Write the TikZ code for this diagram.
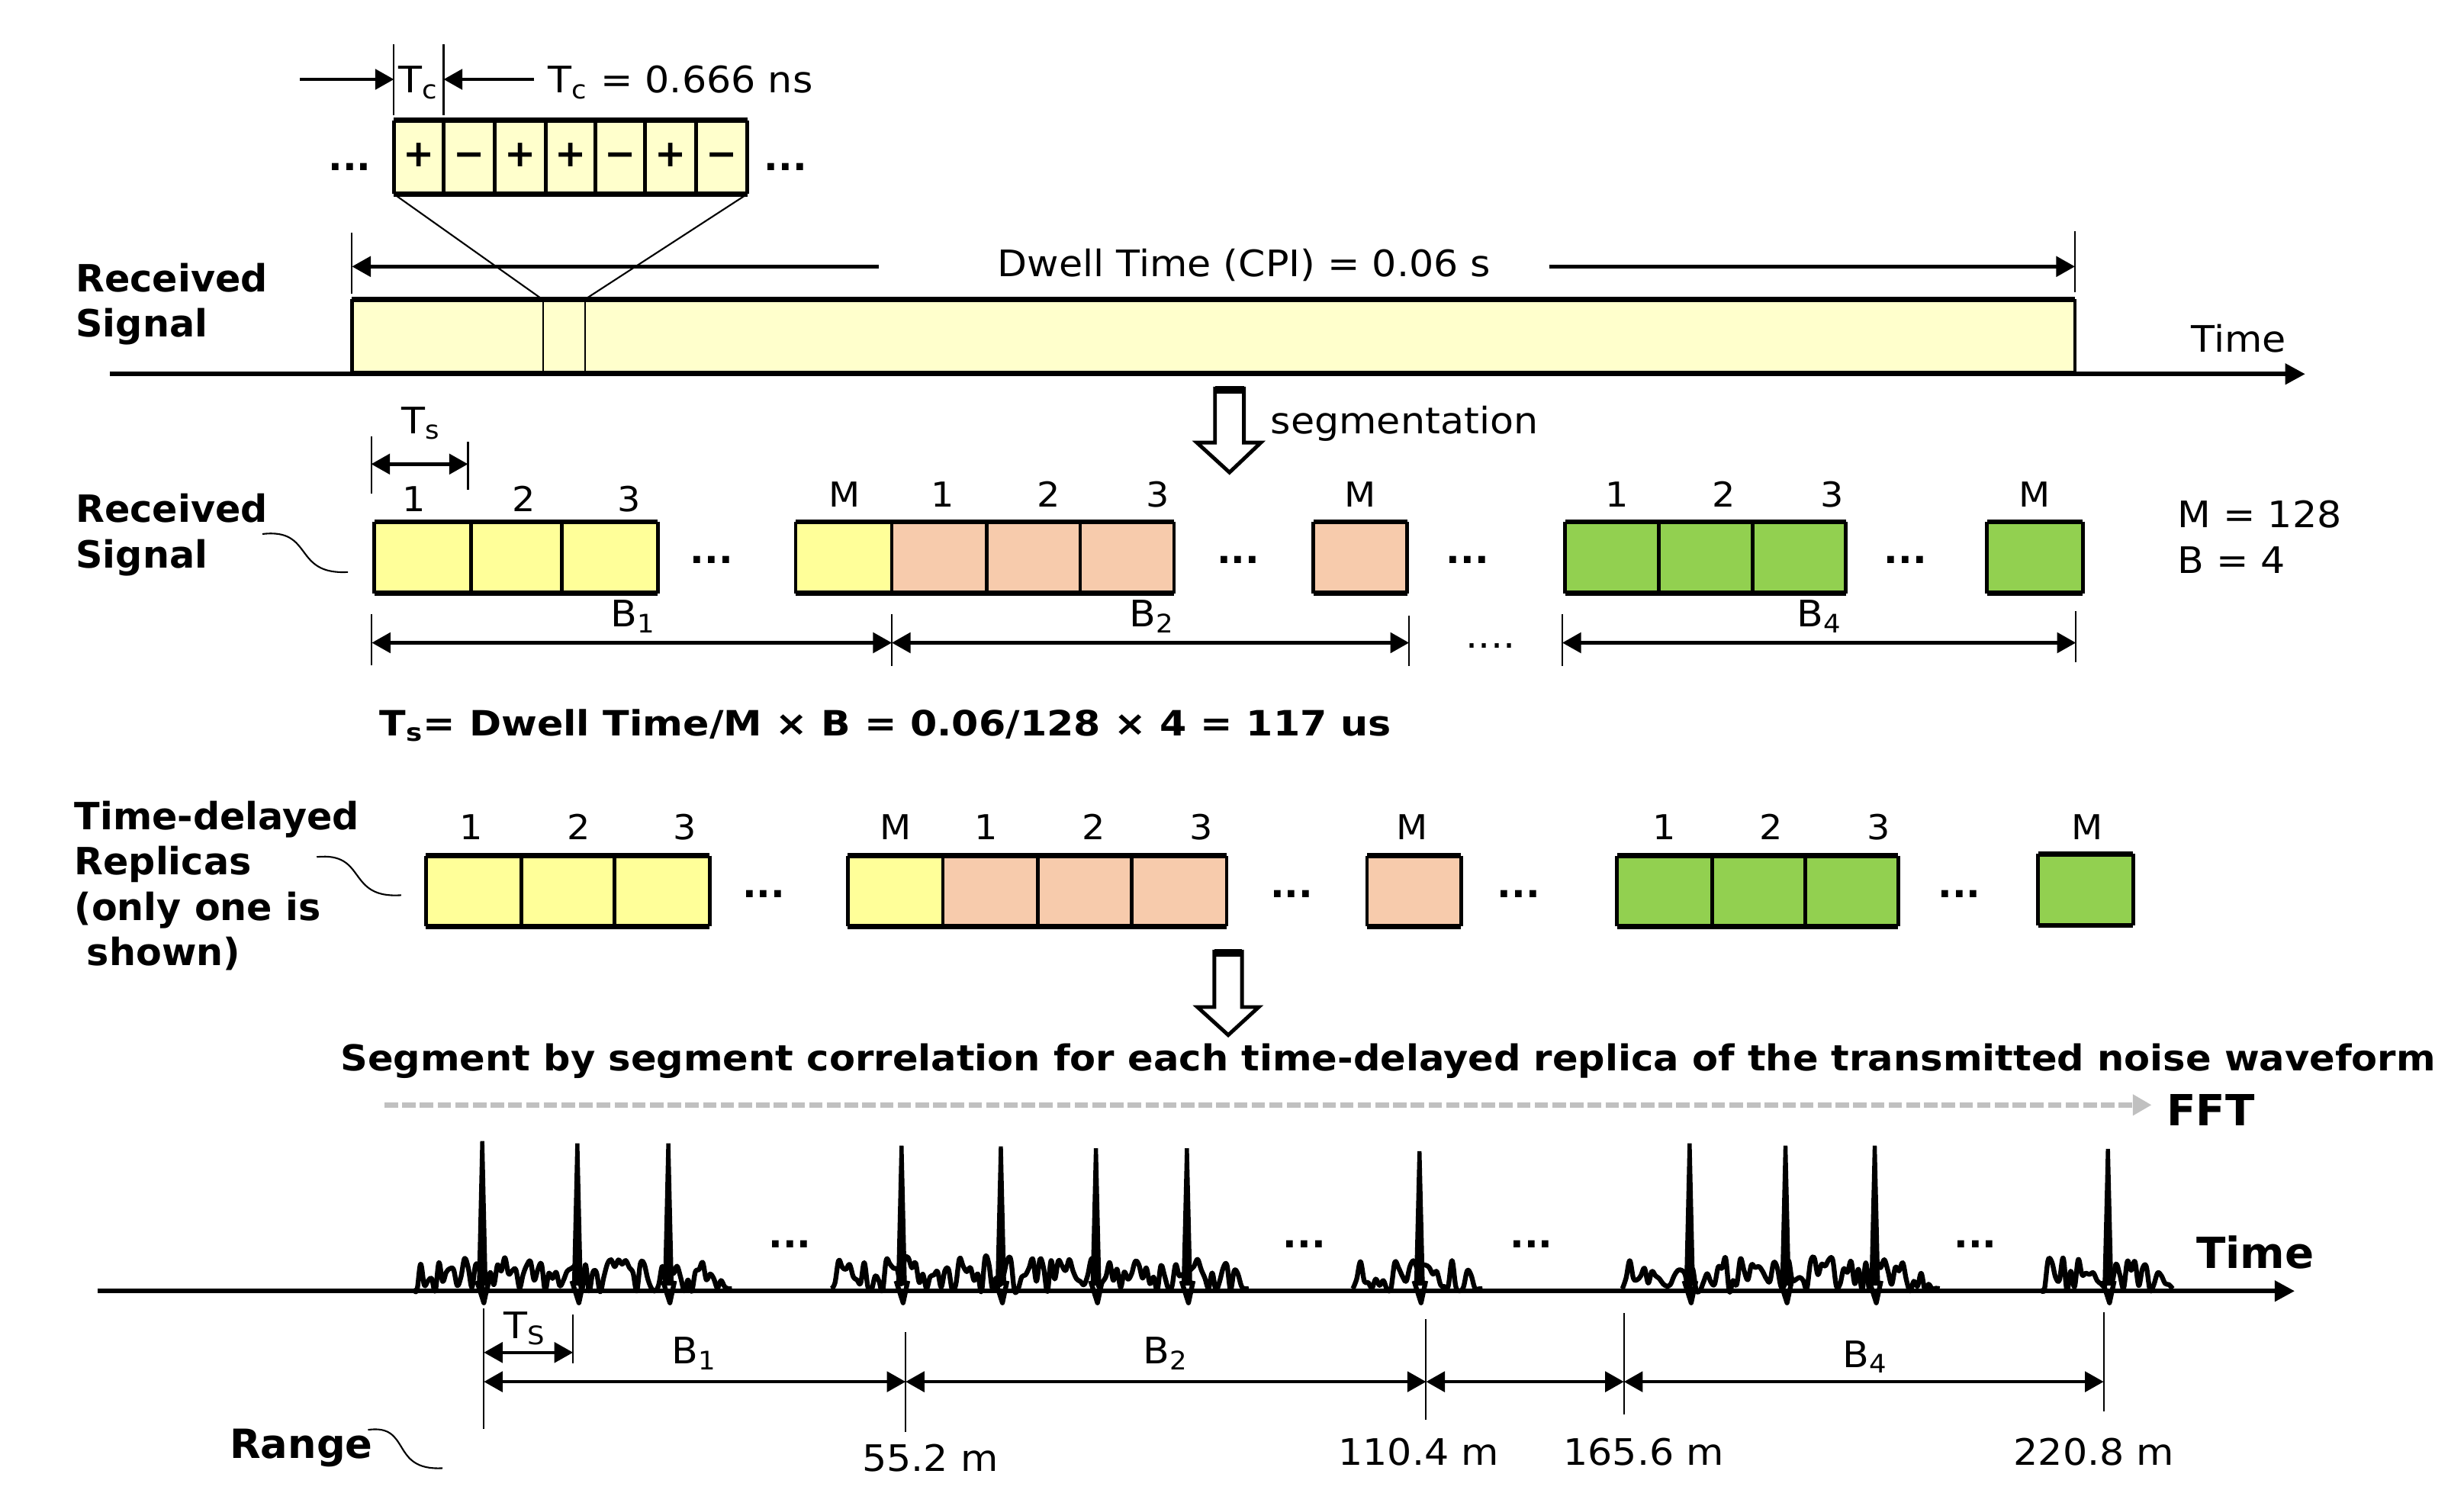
\documentclass[tikz,border=0pt]{standalone}
\usepackage{fontspec}
\setmainfont{DejaVu Sans}[UprightFeatures={FakeStretch=1.06}]
\newfontfamily\corrfamily{DejaVu Sans}[BoldFeatures={FakeStretch=1.06}]
\newfontfamily\formfamily{DejaVu Sans}[BoldFeatures={FakeStretch=1.11}]
\usetikzlibrary{arrows.meta}
\definecolor{chipY}{HTML}{FFFFCC}
\definecolor{segY}{HTML}{FFFF99}
\definecolor{segP}{HTML}{F7CBAC}
\definecolor{segG}{HTML}{92D050}
\definecolor{dashG}{HTML}{C0C0C0}
\newcommand\fr{\fontsize{13.6}{16}\selectfont}
\newcommand\fnum{\fontsize{12.8}{15}\selectfont}
\newcommand\fb{\bfseries\fontsize{14}{17}\selectfont}
\newcommand\fbs{\corrfamily\bfseries\fontsize{13.3}{16}\selectfont}
\newcommand\fbl{\bfseries\fontsize{16}{19}\selectfont}
\newcommand\grp[6]{%
  \fill[#5] (#1,#3) rectangle (#2,#4);
  \foreach \xx in {#6} \draw[sideln] (\xx,#3) -- (\xx,#4);
  \draw[edgeln] (#1,#3) -- (#2,#3) (#1,#4) -- (#2,#4);}
\newcommand\noise[2]{%
  \pgfmathtruncatemacro\ns{(#2-#1)/2.3}%
  \draw[noiseln] plot[smooth, tension=0.6, samples=\ns, domain=#1:#2]
    (\x, {820 - min(1,(\x-#1)/4,(#2-\x)/14)*(-2+22*rnd)});}
\newcommand\spike[2]{%
  \fill ({#1-3.4},818) -- ({#1-1.3},#2) -- ({#1+1.3},#2) -- ({#1+3.4},818) -- cycle;
  \draw[noiseln] ({#1-3.5},815) -- ({#1+1},829) -- ({#1+4},815);}
\begin{document}
\begin{tikzpicture}[x=0.0206cm,y=-0.0206cm,
  txt/.style={inner sep=0pt, outer sep=0pt, font=\fr},
  btxt/.style={inner sep=0pt, outer sep=0pt, font=\fb},
  num/.style={inner sep=0pt, font=\fnum, anchor=base},
  dots/.style={inner sep=0pt, font=\fb, anchor=base},
  sideln/.style={line width=1.4pt},
  edgeln/.style={line width=1.8pt},
  extln/.style={line width=0.6pt},
  dimln/.style={line width=1.3pt, {Triangle[length=7pt,width=7.5pt]}-{Triangle[length=7pt,width=7.5pt]}},
  arrln/.style={line width=1.3pt, -{Triangle[length=7pt,width=7.5pt]}},
  axis/.style={line width=1.8pt, -{Triangle[length=7.5pt,width=7.5pt]}},
  hollow/.style={draw, line width=1.4pt, fill=white, line join=miter},
  noiseln/.style={line width=1.8pt, line join=round},
  curv/.style={line width=0.6pt},
]
\useasboundingbox (0,0) rectangle (1568,957.8);
\pgfmathsetseed{4242}

% ---------------- top: chips ----------------
\grp{250.7}{475.5}{76.5}{123.5}{chipY}{250.7,282.3,315,347.3,378.9,410.5,442.8,475.5}
\foreach \cx/\s [count=\i] in {266.5/+,298.65/−,331.15/+,363.1/+,394.7/−,426.65/+,459.15/−}
  \node[btxt, anchor=base] (chip\i) at (\cx,106) {\s};
\node[dots] (cdl) at (222.5,108.7) {...};
\node[dots] (cdr) at (500,108.7) {...};

% Tc dimension
\draw[extln] (250.7,28.3) -- (250.7,73.1);
\draw[extln] (282.3,28.3) -- (282.3,73.1);
\coordinate (tcA) at (191,50.5);
\coordinate (tcB) at (250.7,50.5);
\coordinate (tcC) at (340,50.5);
\coordinate (tcD) at (282.3,50.5);
\draw[arrln] (tcA) -- (tcB);
\draw[arrln] (tcC) -- (tcD);
\node[txt, anchor=base] (tcl) at (266.5,59) {T\textsubscript{c}};
\node[txt, anchor=base west] (tcv) at (349,59) {T\textsubscript{c} = 0.666 ns};

% big box
\grp{224}{1320.4}{190.5}{237.5}{chipY}{224,1320.4}
\draw[line width=0.55pt] (345.5,190.5) -- (345.5,237.5) (372.2,190.5) -- (372.2,237.5);
\coordinate (zl1) at (250.7,123.5);
\coordinate (zl2) at (344.5,190);
\coordinate (zr1) at (475.5,123.5);
\coordinate (zr2) at (373,190);
\draw[extln] (zl1) -- (zl2);
\draw[extln] (zr1) -- (zr2);
\coordinate (ax1s) at (70,238);
\coordinate (ax1e) at (1467,238);
\draw[axis] (ax1s) -- (ax1e);
\node[txt, anchor=base west] (time1) at (1394.5,224) {Time};
\node[btxt, anchor=base west] (rs1a) at (48.3,185.8) {Received};
\node[btxt, anchor=base west] (rs1b) at (48.3,214.4) {Signal};

% dwell dimension
\draw[extln] (224,148) -- (224,187);
\draw[extln] (1320.4,147.2) -- (1320.4,186);
\coordinate (dwA) at (559,169.6);
\coordinate (dwB) at (224,169.6);
\coordinate (dwC) at (985.7,169.6);
\coordinate (dwD) at (1320.4,169.6);
\draw[arrln] (dwA) -- (dwB);
\draw[arrln] (dwC) -- (dwD);
\node[txt, anchor=base] (dwell) at (791.8,176) {Dwell Time (CPI) = 0.06 s};

% segmentation arrow
\draw[hollow] (773.2,247.2) -- (791.6,247.2) -- (791.6,281.6) -- (802.4,281.6) -- (782.4,300.6) -- (761.6,281.6) -- (773.2,281.6) -- cycle;
\draw[line width=3pt] (773.2,248) -- (791.6,248);
\node[txt, anchor=base west] (segm) at (808.7,275.9) {segmentation};

% ---------------- row 2 ----------------
\grp{238.3}{418.6}{332}{377.5}{segY}{238.3,299.8,357.4,418.6}
\grp{506.3}{567.5}{332}{377.5}{segY}{506.3,567.5}
\grp{567.5}{747.1}{332}{377.5}{segP}{567.5,627.8,687.4,747.1}
\grp{835.8}{895.5}{332}{377.5}{segP}{835.8,895.5}
\grp{996.1}{1174.6}{332}{377.5}{segG}{996.1,1055.8,1115.5,1174.6}
\grp{1264.4}{1325.4}{332}{377.5}{segG}{1264.4,1325.4}
\foreach \nx/\t [count=\i] in {263.6/1,333.2/2,400.4/3}
  \node[num] (r2a\i) at (\nx,325.5) {\t};
\foreach \nx/\t [count=\i] in {537.3/M,599.7/1,667.4/2,736.5/3,865.4/M,1029/1,1096.9/2,1166/3,1294.6/M}
  \node[num] (r2b\i) at (\nx,322.5) {\t};
\foreach \dx [count=\i] in {452.8,788,934,1212.5}
  \node[dots] (r2d\i) at (\dx,358.5) {...};
\node[txt, anchor=base west] (mval) at (1385.7,335.8) {M = 128};
\node[txt, anchor=base west] (bval) at (1385.7,364.9) {B = 4};
\node[btxt, anchor=base west] (rs2a) at (48.3,332.5) {Received};
\node[btxt, anchor=base west] (rs2b) at (48.3,361.6) {Signal};
\coordinate (c2s) at (167,339.8);
\coordinate (c2e) at (221.4,364);
\draw[curv] (c2s) .. controls (200,336) and (186,366) .. (c2e);

% Ts dimension
\draw[extln] (236.2,277.5) -- (236.2,313.9);
\draw[extln] (297.8,281.2) -- (297.8,311.9);
\coordinate (tsA) at (236.2,295.3);
\coordinate (tsB) at (297.8,295.3);
\draw[dimln] (tsA) -- (tsB);
\node[txt, anchor=base] (tsl) at (268,275.9) {T\textsubscript{s}};

% B dimensions
\foreach \ex/\ya/\yb in {236.6/390.8/423.1, 567.5/390.8/424, 896.7/391.6/423.8, 994.2/390.8/423.8, 1321/389/421.5}
  \draw[extln] (\ex,\ya) -- (\ex,\yb);
\coordinate (b1a) at (236.6,409);
\coordinate (b1b) at (567.5,409);
\coordinate (b2b) at (896.7,409);
\coordinate (b4a) at (994.2,409);
\coordinate (b4b) at (1321,409);
\draw[dimln] (b1a) -- (b1b);
\draw[dimln] (b1b) -- (b2b);
\draw[dimln] (b4a) -- (b4b);
\node[txt, anchor=base] (bl1) at (403,399) {B\textsubscript{1}};
\node[txt, anchor=base] (bl2) at (733,399) {B\textsubscript{2}};
\node[txt, anchor=base] (bl4) at (1158,399) {B\textsubscript{4}};
\node[dots, font=\fr] (bdots) at (948.6,412.5) {....};

% formula
\node[btxt, font=\formfamily\bfseries\fontsize{13}{16}\selectfont, anchor=base west] (form) at (241.5,468.4)
  {T\textsubscript{s}= Dwell Time/M × B = 0.06/128 × 4 = 117 us};

% ---------------- row 3 ----------------
\grp{271}{451.6}{544.5}{589.5}{segY}{271,331.6,391,451.6}
\grp{539.4}{600}{544.5}{589.5}{segY}{539.4,600}
\grp{600}{780.6}{544.5}{589.5}{segP}{600,660.5,720,780.6}
\grp{869.9}{929.8}{544.5}{589.5}{segP}{869.9,929.8}
\grp{1029.1}{1208}{544.5}{589.5}{segG}{1029.1,1089.7,1148.6,1208}
\grp{1296.9}{1357.4}{543.4}{589}{segG}{1296.9,1357.4}
\foreach \nx/\t [count=\i] in {300/1,368.4/2,435.8/3,570/M,627.3/1,695.8/2,764.2/3,898.4/M,1059/1,1127.2/2,1195.7/3,1328/M}
  \node[num] (r3n\i) at (\nx,534) {\t};
\foreach \dx [count=\i] in {486,822,966.5,1246.8}
  \node[dots] (r3d\i) at (\dx,571) {...};
\node[btxt, anchor=base west] (td1) at (47.4,527.8) {Time-delayed};
\node[btxt, anchor=base west] (td2) at (47.4,556.6) {Replicas};
\node[btxt, anchor=base west] (td3) at (47.4,585.8) {(only one is};
\node[btxt, anchor=base west] (td4) at (55.3,614.1) {shown)};
\coordinate (c3s) at (201.6,545.3);
\coordinate (c3e) at (255.3,569.6);
\draw[curv] (c3s) .. controls (234,542) and (220,572) .. (c3e);

% correlation arrow
\draw[hollow] (772.8,605.5) -- (790.4,605.5) -- (790.4,640.8) -- (801,640.8) -- (781.6,658.6) -- (762,640.8) -- (772.8,640.8) -- cycle;
\draw[line width=3pt] (772.8,606.3) -- (790.4,606.3);
\node[btxt, font=\fbs, anchor=base west] (corr) at (216.8,681.2)
  {Segment by segment correlation for each time-delayed replica of the transmitted noise waveform};
\coordinate (gA) at (244.7,703.1);
\coordinate (gB) at (1369.2,703.1);
\draw[line width=1.8pt, dashG, dash pattern=on 5pt off 1.6pt, -{Triangle[length=7pt,width=7.5pt]}] (gA) -- (gB);
\node[btxt, font=\fbl, anchor=base west] (fft) at (1378.9,716.5) {FFT};

% ---------------- bottom ----------------
\noise{263}{465.8}
\noise{529}{794.7}
\noise{860.9}{943.4}
\noise{1032.4}{1234.3}
\noise{1298.5}{1382.6}
\foreach \px/\py in {306.9/726,367.4/727.5,425.3/727.5,573.7/729,636.9/729.4,697.4/730.6,755.3/730.6,903.3/732.5,1075.2/727.5,1136.2/729,1193/729,1341.4/731}
  \spike{\px}{\py}
\coordinate (ax2s) at (62.1,821.5);
\coordinate (ax2e) at (1460.3,821.5);
\draw[axis] (ax2s) -- (ax2e);
\node[btxt, font=\fbl, anchor=base west] (time2) at (1397.6,807) {Time};
\foreach \dx [count=\i] in {502.6,830,974.5,1257}
  \node[dots] (r4d\i) at (\dx,794) {...};

\foreach \ex/\ya/\yb in {307.9/832.5/909.4, 364.7/836.6/867.3, 576.3/847.8/911.2, 907.5/839.3/903.6, 1033.4/835.5/900, 1338.7/834.9/898.2}
  \draw[extln] (\ex,\ya) -- (\ex,\yb);
\coordinate (bsA) at (307.9,860.6);
\coordinate (bsB) at (364.7,860.6);
\draw[dimln] (bsA) -- (bsB);
\node[txt, anchor=base] (tsl2) at (334,851.7) {T\textsubscript{S}};
\coordinate (q1) at (307.9,879.2);
\coordinate (q2) at (576.3,879.2);
\coordinate (q3) at (907.5,879.2);
\coordinate (q4) at (1033.4,879.2);
\coordinate (q5) at (1338.7,879.2);
\draw[dimln] (q1) -- (q2);
\draw[dimln] (q2) -- (q3);
\draw[dimln] (q3) -- (q4);
\draw[dimln] (q4) -- (q5);
\node[txt, anchor=base] (bb1) at (442,867.7) {B\textsubscript{1}};
\node[txt, anchor=base] (bb2) at (742,867.7) {B\textsubscript{2}};
\node[txt, anchor=base] (bb4) at (1187,870) {B\textsubscript{4}};

\node[txt, anchor=base] (rg1) at (592,936) {55.2 m};
\node[txt, anchor=base] (rg2) at (902.8,932.4) {110.4 m};
\node[txt, anchor=base] (rg3) at (1046,932.4) {165.6 m};
\node[txt, anchor=base] (rg4) at (1332.5,932.4) {220.8 m};
\node[btxt, font=\bfseries\fontsize{15}{18}\selectfont, anchor=base west] (range) at (146.3,928) {Range};
\coordinate (c4s) at (234.2,909.8);
\coordinate (c4e) at (281.6,934.2);
\draw[curv] (c4s) .. controls (262,906) and (248,936) .. (c4e);
\end{tikzpicture}
\end{document}
